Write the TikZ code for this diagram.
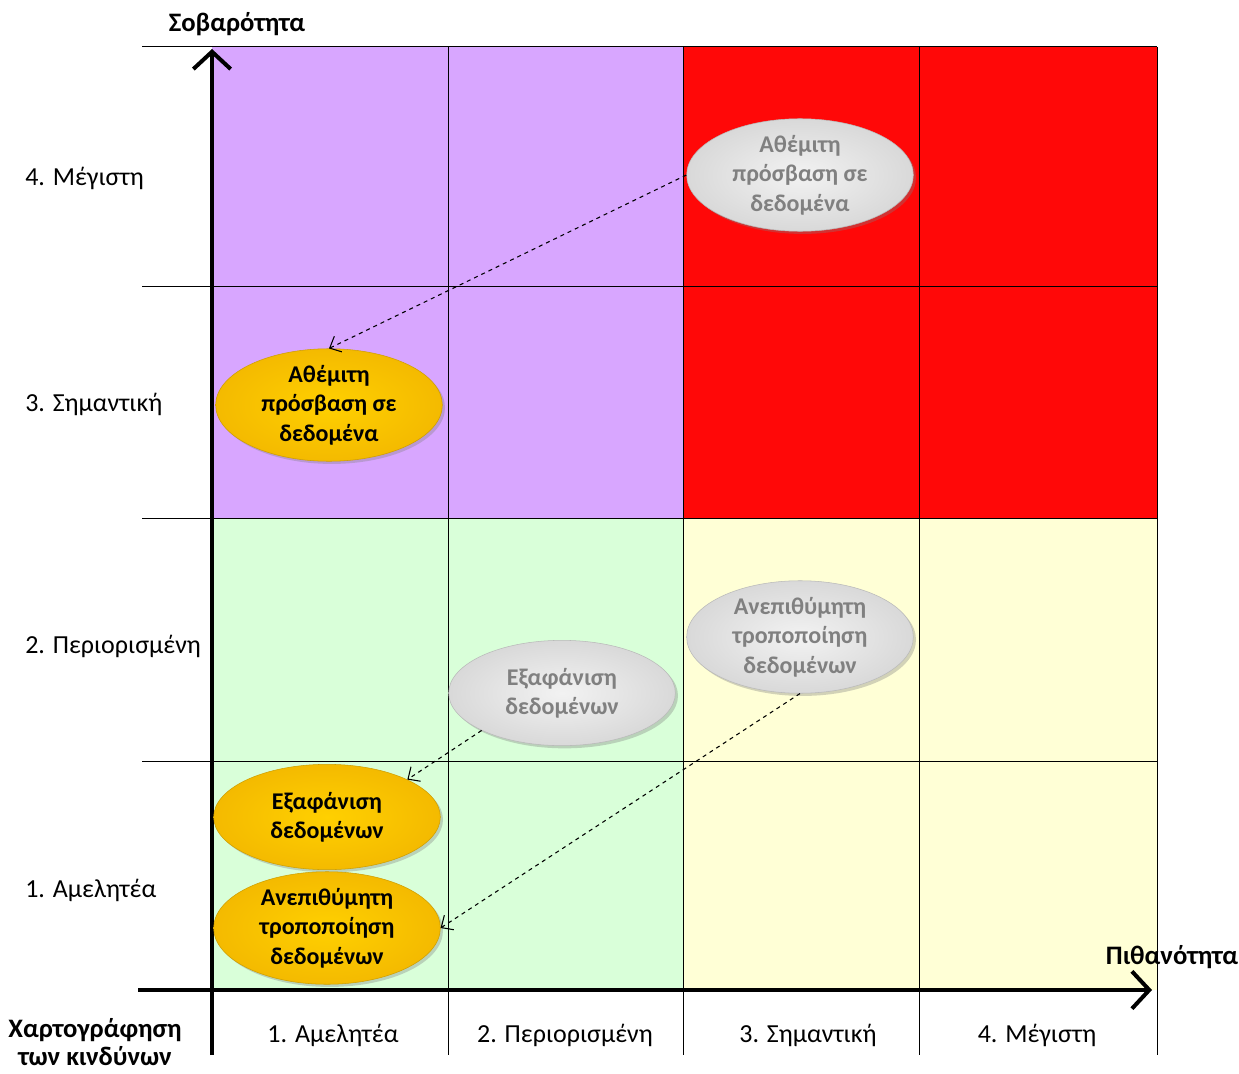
\documentclass[tikz,border=0pt]{standalone}
\usepackage{fontspec}
\setmainfont{Carlito}
\usetikzlibrary{shapes.geometric,arrows.meta,shadows}
\definecolor{zonePurple}{RGB}{216,166,255}
\definecolor{zoneRed}{RGB}{255,8,8}
\definecolor{zoneGreen}{RGB}{217,255,217}
\definecolor{zoneYellow}{RGB}{255,255,214}
\definecolor{riskText}{RGB}{128,128,128}
\definecolor{goldIn}{RGB}{255,208,0}
\definecolor{goldOut}{RGB}{244,186,0}
\tikzset{
  risk/.style={ellipse, minimum width=170pt, minimum height=79pt, inner sep=0pt,
    align=center, font=\fontsize{18}{22}\selectfont\bfseries,
    drop shadow={opacity=0.35, shadow xshift=2pt, shadow yshift=-2pt}},
  riskgrey/.style={risk, draw=gray!55, shade, inner color=gray!10, outer color=gray!30, text=riskText},
  riskgold/.style={risk, draw=goldOut!85!black, shade, inner color=goldIn, outer color=goldOut, text=black},
  axisline/.style={line width=3pt, -{Straight Barb[length=13pt,width=28pt,line width=3pt]}},
  gridline/.style={black, line width=0.75pt},
  movearrow/.style={dashed, line width=0.8pt, -{Straight Barb[length=7pt,width=13pt,line width=0.8pt]}},
  scalelabel/.style={font=\fontsize{19.5}{22}\selectfont},
  axislabel/.style={font=\fontsize{20}{21}\selectfont\bfseries}
}
\begin{document}
\begin{tikzpicture}[x=0.75pt,y=-0.75pt]
    \useasboundingbox (0,0) rectangle (1239,1074);

    % Coloured zones
    \fill[zonePurple] (212,47) rectangle (683,518);
    \fill[zoneRed] (683,47) rectangle (1157,518);
    \fill[zoneGreen] (212,518) rectangle (683,990);
    \fill[zoneYellow] (683,518) rectangle (1157,990);

    % Grid
    \foreach \y in {47,286,518,761} {
        \draw[gridline] (142,\y) -- (1157,\y);
    }
    \foreach \x in {448,683,919,1157} {
        \draw[gridline] (\x,47) -- (\x,1055);
    }

    % Axes
    \draw[axisline] (138,990) -- (1152,990);
    \draw[axisline] (212,1055) -- (212,49);

    % Axis titles
    \node[axislabel] (sevTitle) at (237,24) {Σοβαρότητα};
    \node[axislabel] (probTitle) at (1172,957) {Πιθανότητα};
    \node[axislabel, anchor=north, align=center, inner sep=0pt] (mapTitle) at (95,1018) {Χαρτογράφηση\\των κινδύνων};

    % Severity levels
    \node[scalelabel, anchor=west, inner sep=0pt] (sev4) at (25,178) {4. Μέγιστη};
    \node[scalelabel, anchor=west, inner sep=0pt] (sev3) at (25,404) {3. Σημαντική};
    \node[scalelabel, anchor=west, inner sep=0pt] (sev2) at (25,646) {2. Περιορισμένη};
    \node[scalelabel, anchor=west, inner sep=0pt] (sev1) at (25,890) {1. Αμελητέα};

    % Probability levels
    \node[scalelabel] (prob1) at (333,1035) {1. Αμελητέα};
    \node[scalelabel] (prob2) at (565,1035) {2. Περιορισμένη};
    \node[scalelabel] (prob3) at (808,1035) {3. Σημαντική};
    \node[scalelabel] (prob4) at (1037,1035) {4. Μέγιστη};

    % Risks before treatment
    \node[riskgrey] (gAccess) at (800,175) {Αθέμιτη\\πρόσβαση σε\\δεδομένα};
    \node[riskgrey] (gLoss) at (562,693) {Εξαφάνιση\\δεδομένων};
    \node[riskgrey] (gChange) at (800,637) {Ανεπιθύμητη\\τροποποίηση\\δεδομένων};

    % Risks after treatment
    \node[riskgold] (yAccess) at (329,405) {Αθέμιτη\\πρόσβαση σε\\δεδομένα};
    \node[riskgold] (yLoss) at (327,817) {Εξαφάνιση\\δεδομένων};
    \node[riskgold] (yChange) at (327,928) {Ανεπιθύμητη\\τροποποίηση\\δεδομένων};

    % Moves
    \draw[movearrow] (gAccess.west) -- (yAccess.north);
    \draw[movearrow] (gLoss.south west) -- (yLoss.north east);
    \draw[movearrow] (gChange.south) -- (yChange.east);
\end{tikzpicture}
\end{document}
